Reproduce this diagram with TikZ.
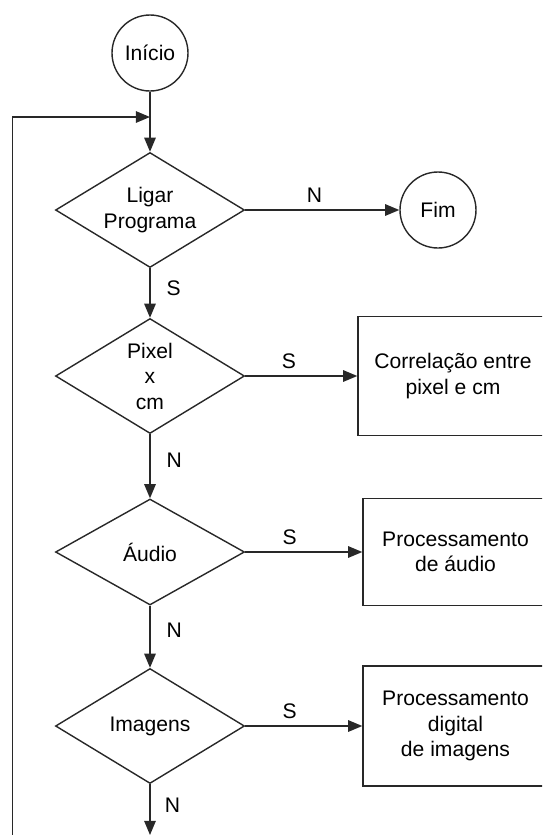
\documentclass[tikz,border=0pt]{standalone}
\usepackage{fontspec}
\setmainfont{Liberation Sans}
\usepackage{tikz}
\usetikzlibrary{arrows.meta,shapes.geometric}
\definecolor{fluxo}{RGB}{40,40,40}

\begin{document}
\begin{tikzpicture}[
    font=\fontsize{12}{14.5}\selectfont,
    terminal/.style={circle,draw=fluxo,line width=0.8pt,minimum size=1.52cm,inner sep=0pt},
    decisao/.style={diamond,draw=fluxo,line width=0.8pt,shape aspect=1.64,minimum width=3.78cm,minimum height=2.3cm,inner sep=0pt,align=center},
    processo/.style={rectangle,draw=fluxo,line width=0.8pt,minimum width=3.8cm,align=center},
    seta/.style={draw=fluxo,line width=0.8pt,-{Triangle[length=8pt,width=6.5pt]}},
    rotulo/.style={inner sep=4pt}
  ]
    \clip (0,0) rectangle (10.84,-16.7);
    % inicio e fim
    \node[terminal] (inicio) at (3.0,-1.06) {Início};
    \node[terminal] (fim) at (8.76,-4.2) {Fim};
    % decisoes
    \node[decisao] (ligar) at (3.0,-4.2) {Ligar\\Programa};
    \node[decisao] (pixel) at (3.0,-7.52) {Pixel\\x\\cm};
    \node[decisao,minimum height=2.12cm] (audio) at (3.0,-11.04) {Áudio};
    \node[decisao] (imagens) at (3.0,-14.52) {Imagens};
    % processos
    \node[processo,minimum height=2.38cm] (correl) at (9.06,-7.52) {Correlação entre\\pixel e cm};
    \node[processo,minimum width=3.7cm,minimum height=2.14cm] (procaudio) at (9.11,-11.04) {Processamento\\de áudio};
    \node[processo,minimum width=3.7cm,minimum height=2.4cm] (procimg) at (9.11,-14.52) {Processamento\\digital\\de imagens};
    \coordinate (entrada) at (3.0,-2.34);
    \coordinate (retorno) at (0.25,-16.7);
    \coordinate (saida) at (3.0,-16.7);

    \draw[seta] (inicio) -- (ligar);
    \draw[seta] (retorno) |- (entrada);
    \draw[seta] (ligar) -- node[rotulo,above,pos=0.45] {N} (fim);
    \draw[seta] (ligar) -- node[rotulo,right=5pt,pos=0.4] {S} (pixel);
    \draw[seta] (pixel) -- node[rotulo,above,pos=0.39] {S} (correl);
    \draw[seta] (pixel) -- node[rotulo,right=5pt,pos=0.4] {N} (audio);
    \draw[seta] (audio) -- node[rotulo,above,pos=0.38] {S} (procaudio);
    \draw[seta] (audio) -- node[rotulo,right=5pt,pos=0.4] {N} (imagens);
    \draw[seta] (imagens) -- node[rotulo,above,pos=0.38] {S} (procimg);
    \draw[seta] (imagens) -- node[rotulo,right=4pt,pos=0.42] {N} (saida);
  \end{tikzpicture}
\end{document}
